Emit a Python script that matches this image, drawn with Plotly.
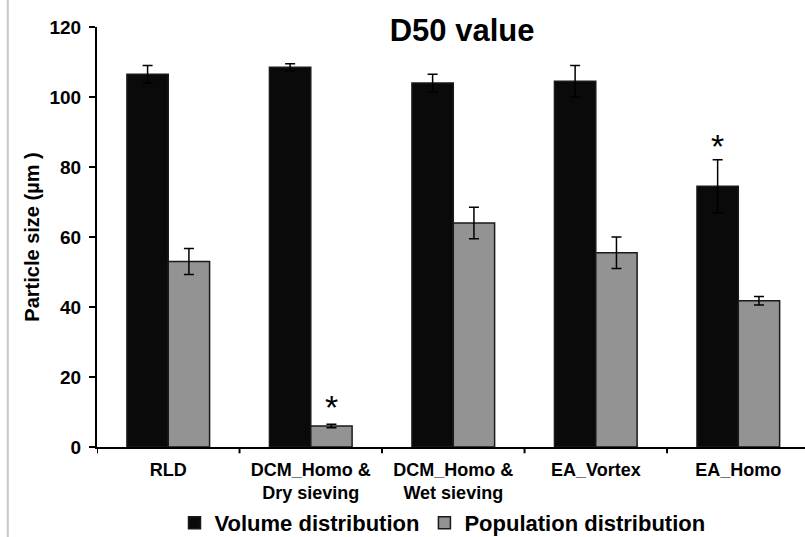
import plotly.graph_objects as go

categories = ["RLD", "DCM_Homo &<br>Dry sieving", "DCM_Homo &<br>Wet sieving", "EA_Vortex", "EA_Homo"]
volume = [106.5, 108.5, 104.0, 104.5, 74.5]
volume_err = [2.5, 1.0, 2.5, 4.5, 7.6]
population = [53.0, 6.0, 64.0, 55.5, 41.8]
population_err = [3.7, 0.5, 4.5, 4.5, 1.2]
# significance markers: (category index, series, y)
stars = [(4, "volume", 86.0), (1, "population", 11.5)]

font_family = "Liberation Sans, Arial, sans-serif"
bargap = 0.42
bw = (1 - bargap) / 2

fig = go.Figure()
fig.add_trace(go.Bar(
    x=list(range(len(categories))), y=volume, name="Volume distribution",
    marker=dict(color="#0a0a0a", line=dict(color="#1a1a1a", width=1.5)),
    error_y=dict(type="data", array=volume_err, color="black", thickness=1.5, width=5),
))
fig.add_trace(go.Bar(
    x=list(range(len(categories))), y=population, name="Population distribution",
    marker=dict(color="#939393", line=dict(color="#1a1a1a", width=1.5)),
    error_y=dict(type="data", array=population_err, color="black", thickness=1.5, width=5),
))

for idx, series, yv in stars:
    off = -bw / 2 if series == "volume" else bw / 2
    fig.add_annotation(x=idx + off, y=yv, text="*", showarrow=False,
                       font=dict(size=34, color="black", family=font_family))

fig.update_layout(
    width=805, height=537,
    margin=dict(l=97, r=0, t=27, b=90, autoexpand=False),
    plot_bgcolor="white", paper_bgcolor="white",
    barmode="group", bargap=bargap, bargroupgap=0,
    font=dict(family=font_family, color="black"),
    title=dict(text="<b>D50 value</b>", x=0.574, xanchor="center", y=0.944, yanchor="middle",
               font=dict(size=31, family=font_family, color="black")),
    showlegend=True,
    legend=dict(orientation="h", x=0.488, xanchor="center",
                yref="container", y=0.026, yanchor="middle",
                bgcolor="rgba(0,0,0,0)",
                font=dict(size=22, family=font_family, color="black", weight="bold"),
                itemwidth=30, tracegroupgap=0),
    xaxis=dict(
        tickmode="array", tickvals=list(range(len(categories))),
        ticktext=categories,
        range=[-0.5, 4.468], showline=True, linecolor="black", linewidth=2,
        ticks="", tickfont=dict(size=18, family=font_family, color="black", weight="bold"),
        ticklabelstandoff=5,
        showgrid=False, zeroline=False,
    ),
    yaxis=dict(
        range=[0, 120], dtick=20, showline=True, linecolor="black", linewidth=2,
        ticks="outside", ticklen=6, tickwidth=2, tickcolor="black",
        tickfont=dict(size=19, family=font_family, color="black", weight="bold"),
        ticklabelstandoff=4,
        showgrid=False, zeroline=False,
        title=dict(text="Particle size (µm )", font=dict(size=20, family=font_family, color="black", weight="bold"),
                   standoff=4),
    ),
)

# x-axis tick marks at category boundaries
for b in [i - 0.5 for i in range(len(categories) + 1)]:
    fig.add_shape(type="line", xref="x", yref="paper", x0=b, x1=b, y0=0, y1=-0.015,
                  line=dict(color="black", width=2))

# left border line of the original image
fig.add_shape(type="line", xref="paper", yref="paper", x0=-0.126, x1=-0.126, y0=-0.214, y1=1.064,
              line=dict(color="#c8c8c8", width=2))

fig.write_html("out.html")
